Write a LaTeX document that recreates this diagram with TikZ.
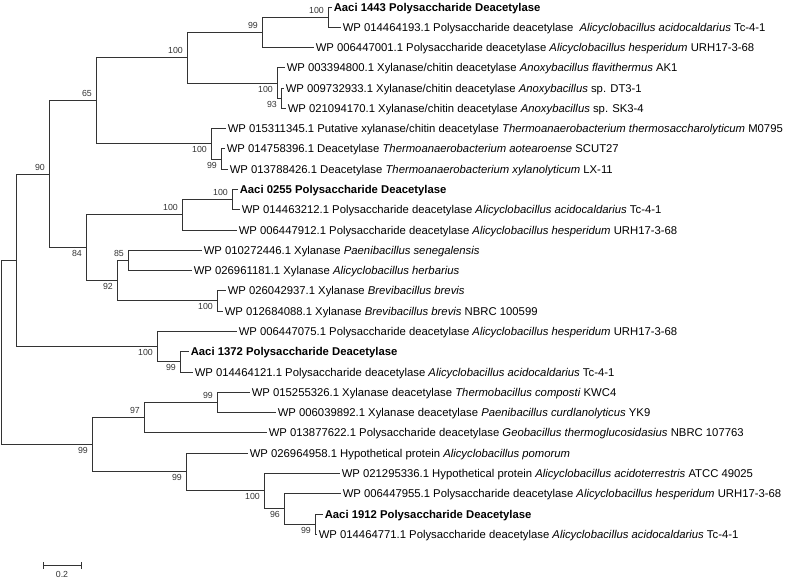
\documentclass[tikz,border=0pt]{standalone}
\usepackage{fontspec}
\setmainfont{Liberation Sans}

\begin{document}
\begin{tikzpicture}[x=1pt, y=-1pt,
	branch/.style={line width=1.5pt, black!80, line cap=rect},
	leaf/.style={anchor=west, inner xsep=2.6pt, inner ysep=0pt, text height=8.1pt, text depth=0pt, font=\fontsize{11.3}{13}\selectfont},
	bup/.style={anchor=base east, inner sep=0pt, xshift=-4.5pt, yshift=4pt, font=\fontsize{8.8}{10}\selectfont, black!80},
	blow/.style={bup, yshift=-12.5pt}]
	\useasboundingbox (0, 0) rectangle (785, 581);

	% leaves
	\node[leaf] (t1) at (331, 7.5) {\textbf{Aaci 1443 Polysaccharide Deacetylase}};
	\node[leaf] (t2) at (340, 27.5) {WP 014464193.1 Polysaccharide deacetylase\ \ \textit{Alicyclobacillus acidocaldarius} Tc-4-1};
	\node[leaf] (t3) at (313, 47.5) {WP 006447001.1 Polysaccharide deacetylase \textit{Alicyclobacillus hesperidum} URH17-3-68};
	\node[leaf] (t4) at (284, 67.5) {WP 003394800.1 Xylanase/chitin deacetylase \textit{Anoxybacillus flavithermus} AK1};
	\node[leaf] (t5) at (283, 88.5) {WP 009732933.1 Xylanase/chitin deacetylase \textit{Anoxybacillus} sp. DT3-1};
	\node[leaf] (t6) at (285, 108.5) {WP 021094170.1 Xylanase/chitin deacetylase \textit{Anoxybacillus} sp. SK3-4};
	\node[leaf] (t7) at (225, 128.5) {WP 015311345.1 Putative xylanase/chitin deacetylase \textit{Thermoanaerobacterium thermosaccharolyticum} M0795};
	\node[leaf] (t8) at (224, 148.5) {WP 014758396.1 Deacetylase \textit{Thermoanaerobacterium aotearoense} SCUT27};
	\node[leaf] (t9) at (227, 169.5) {WP 013788426.1 Deacetylase \textit{Thermoanaerobacterium xylanolyticum} LX-11};
	\node[leaf] (t10) at (237, 189.5) {\textbf{Aaci 0255 Polysaccharide Deacetylase}};
	\node[leaf] (t11) at (239, 209.5) {WP 014463212.1 Polysaccharide deacetylase \textit{Alicyclobacillus acidocaldarius} Tc-4-1};
	\node[leaf] (t12) at (236, 230.5) {WP 006447912.1 Polysaccharide deacetylase \textit{Alicyclobacillus hesperidum} URH17-3-68};
	\node[leaf] (t13) at (201, 250.5) {WP 010272446.1 Xylanase \textit{Paenibacillus senegalensis}};
	\node[leaf] (t14) at (191, 270.5) {WP 026961181.1 Xylanase \textit{Alicyclobacillus herbarius}};
	\node[leaf] (t15) at (225, 290.5) {WP 026042937.1 Xylanase \textit{Brevibacillus brevis}};
	\node[leaf] (t16) at (222, 311.5) {WP 012684088.1 Xylanase \textit{Brevibacillus brevis} NBRC 100599};
	\node[leaf] (t17) at (236, 331.5) {WP 006447075.1 Polysaccharide deacetylase \textit{Alicyclobacillus hesperidum} URH17-3-68};
	\node[leaf] (t18) at (188, 351.5) {\textbf{Aaci 1372 Polysaccharide Deacetylase}};
	\node[leaf] (t19) at (192, 372.5) {WP 014464121.1 Polysaccharide deacetylase \textit{Alicyclobacillus acidocaldarius} Tc-4-1};
	\node[leaf] (t20) at (249, 392.5) {WP 015255326.1 Xylanase deacetylase \textit{Thermobacillus composti} KWC4};
	\node[leaf] (t21) at (275, 412.5) {WP 006039892.1 Xylanase deacetylase \textit{Paenibacillus curdlanolyticus} YK9};
	\node[leaf] (t22) at (266, 432.5) {WP 013877622.1 Polysaccharide deacetylase \textit{Geobacillus thermoglucosidasius} NBRC 107763};
	\node[leaf] (t23) at (247, 453.5) {WP 026964958.1 Hypothetical protein \textit{Alicyclobacillus pomorum}};
	\node[leaf] (t24) at (339, 473.5) {WP 021295336.1 Hypothetical protein \textit{Alicyclobacillus acidoterrestris} ATCC 49025};
	\node[leaf] (t25) at (340, 493.5) {WP 006447955.1 Polysaccharide deacetylase \textit{Alicyclobacillus hesperidum} URH17-3-68};
	\node[leaf] (t26) at (322, 514.5) {\textbf{Aaci 1912 Polysaccharide Deacetylase}};
	\node[leaf] (t27) at (316, 534.5) {WP 014464771.1 Polysaccharide deacetylase \textit{Alicyclobacillus acidocaldarius} Tc-4-1};

	% inner nodes
	\coordinate (root) at (1.5, 352.5);
	\coordinate (a0) at (16.5, 260.5);
	\coordinate (n90) at (49.5, 174.5);
	\coordinate (n65) at (96.5, 100.5);
	\coordinate (n100a) at (187.5, 57.5);
	\coordinate (n99a) at (262.5, 32.5);
	\coordinate (n100b) at (328.5, 17.5);
	\coordinate (n100c) at (277.5, 83.5);
	\coordinate (n93) at (281.5, 98.5);
	\coordinate (n100d) at (211.5, 143.5);
	\coordinate (n99b) at (221.5, 159.5);
	\coordinate (n84) at (86.5, 247.5);
	\coordinate (n100e) at (182.5, 214.5);
	\coordinate (n100f) at (232.5, 199.5);
	\coordinate (n92) at (117.5, 280.5);
	\coordinate (n85) at (128.5, 260.5);
	\coordinate (n100g) at (217.5, 300.5);
	\coordinate (n100h) at (157.5, 346.5);
	\coordinate (n99c) at (180.5, 361.5);
	\coordinate (n99d) at (92.5, 444.5);
	\coordinate (n97) at (144.5, 417.5);
	\coordinate (n99f) at (217.5, 402.5);
	\coordinate (n99e) at (186.5, 471.5);
	\coordinate (n100i) at (264.5, 490.5);
	\coordinate (n96) at (284.5, 508.5);
	\coordinate (n99g) at (315.5, 524.5);

	% branches
	\draw[branch] (a0) -| (root) |- (n99d);
	\draw[branch] (n90) -| (a0) |- (n100h);
	\draw[branch] (n65) -| (n90) |- (n84);
	\draw[branch] (n100a) -| (n65) |- (n100d);
	\draw[branch] (n99a) -| (n100a) |- (n100c);
	\draw[branch] (n100b) -| (n99a) |- (t3.west);
	\draw[branch] (t1.west) -| (n100b) |- (t2.west);
	\draw[branch] (t4.west) -| (n100c) |- (n93);
	\draw[branch] (t5.west) -| (n93) |- (t6.west);
	\draw[branch] (t7.west) -| (n100d) |- (n99b);
	\draw[branch] (t8.west) -| (n99b) |- (t9.west);
	\draw[branch] (n100e) -| (n84) |- (n92);
	\draw[branch] (n100f) -| (n100e) |- (t12.west);
	\draw[branch] (t10.west) -| (n100f) |- (t11.west);
	\draw[branch] (n85) -| (n92) |- (n100g);
	\draw[branch] (t13.west) -| (n85) |- (t14.west);
	\draw[branch] (t15.west) -| (n100g) |- (t16.west);
	\draw[branch] (t17.west) -| (n100h) |- (n99c);
	\draw[branch] (t18.west) -| (n99c) |- (t19.west);
	\draw[branch] (n97) -| (n99d) |- (n99e);
	\draw[branch] (n99f) -| (n97) |- (t22.west);
	\draw[branch] (t20.west) -| (n99f) |- (t21.west);
	\draw[branch] (t23.west) -| (n99e) |- (n100i);
	\draw[branch] (t24.west) -| (n100i) |- (n96);
	\draw[branch] (t25.west) -| (n96) |- (n99g);
	\draw[branch] (t26.west) -| (n99g) |- (t27.west);

	% bootstrap values
	\node[bup] at (n90) {90};
	\node[bup] at (n65) {65};
	\node[bup] at (n100a) {100};
	\node[bup] at (n99a) {99};
	\node[bup] at (n100b) {100};
	\node[blow] at (n100c) {100};
	\node[blow] at (n93) {93};
	\node[blow] at (n100d) {100};
	\node[blow] at (n99b) {99};
	\node[blow] at (n84) {84};
	\node[bup] at (n100e) {100};
	\node[bup] at (n100f) {100};
	\node[blow] at (n92) {92};
	\node[bup] at (n85) {85};
	\node[blow] at (n100g) {100};
	\node[blow] at (n100h) {100};
	\node[blow] at (n99c) {99};
	\node[blow] at (n99d) {99};
	\node[bup] at (n97) {97};
	\node[bup] at (n99f) {99};
	\node[blow] at (n99e) {99};
	\node[blow] at (n100i) {100};
	\node[blow] at (n96) {96};
	\node[blow] at (n99g) {99};

	% scale bar
	\coordinate (sb1) at (43.5, 565.5);
	\coordinate (sb2) at (81.5, 565.5);
	\draw[branch] (sb1) -- (sb2);
	\draw[branch] ([yshift=3pt]sb1) -- ([yshift=-3pt]sb1);
	\draw[branch] ([yshift=3pt]sb2) -- ([yshift=-3pt]sb2);
	\node[font=\fontsize{8.8}{10}\selectfont, black!80] (sblabel) at (62, 574.7) {0.2};

\end{tikzpicture}
\end{document}
